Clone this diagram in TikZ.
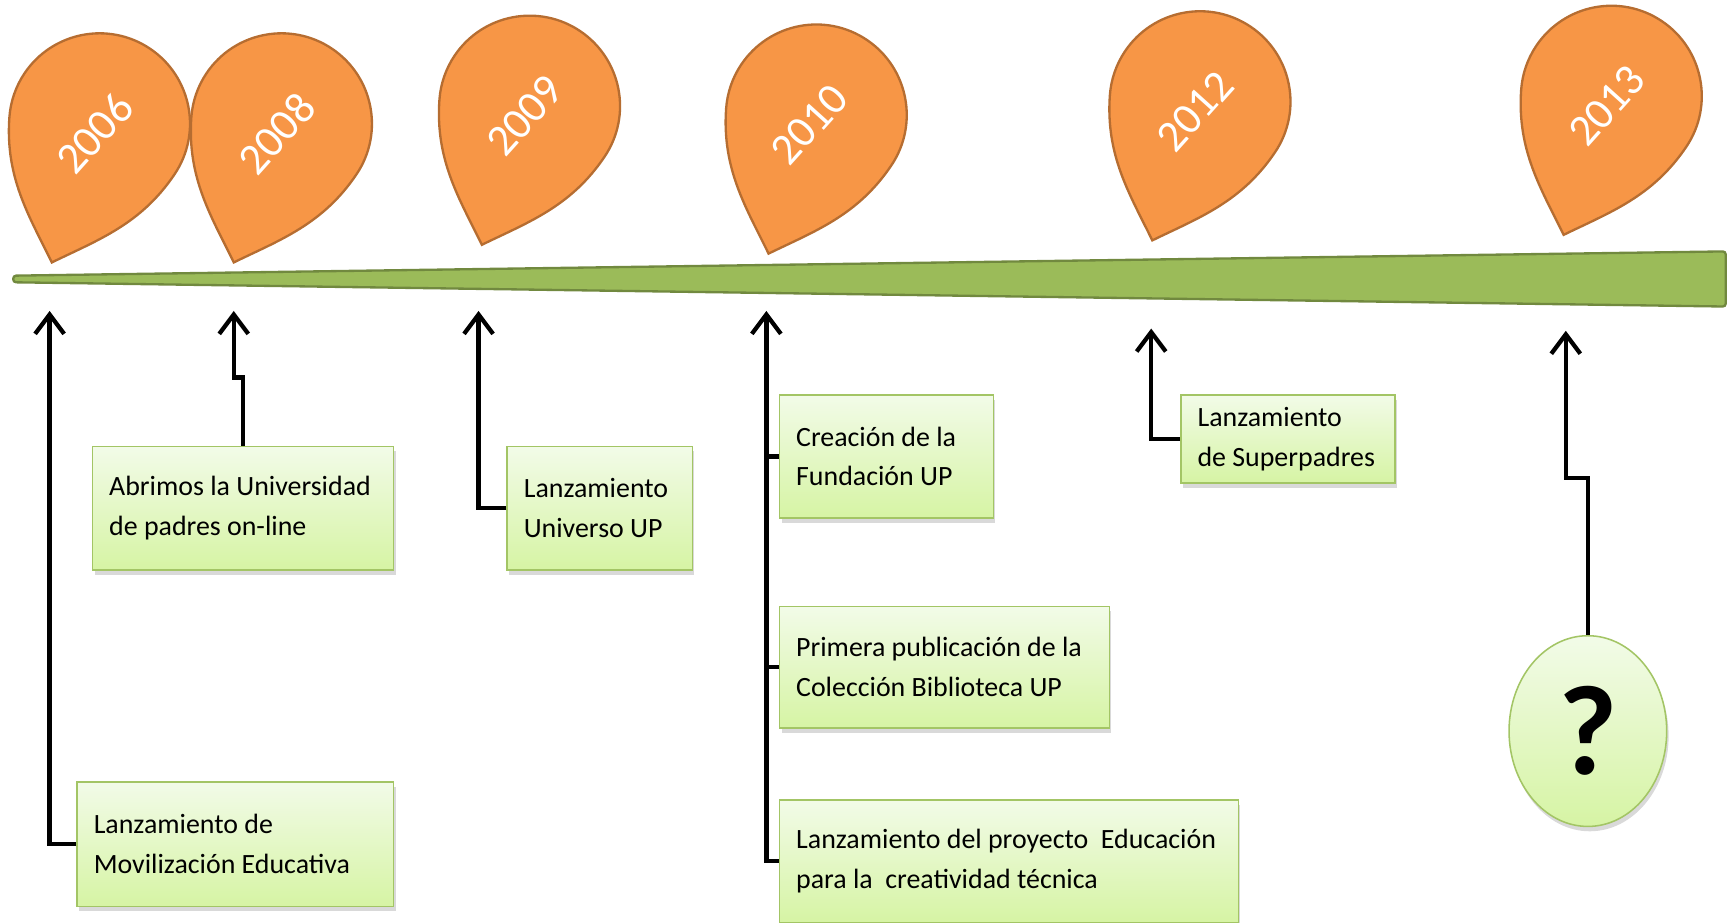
\documentclass[tikz,border=0pt]{standalone}
\usepackage{fontspec}
\setmainfont{Carlito}
\usetikzlibrary{arrows.meta,shapes.geometric,shadows}
\definecolor{naranja}{HTML}{F79646}
\definecolor{naranjaborde}{HTML}{B66D31}
\definecolor{verde}{HTML}{9BBB59}
\definecolor{verdeborde}{HTML}{71893F}
\definecolor{cajaarriba}{HTML}{F2FBE8}
\definecolor{cajaabajo}{HTML}{D6F4A4}
\definecolor{cajaborde}{HTML}{A3C565}
\begin{document}
\begin{tikzpicture}
  [x=0.02cm, y=-0.02cm,
   >={Straight Barb[length=10pt,width=15pt]},
   evento/.style={
    draw=cajaborde,
    top color=cajaarriba,
    bottom color=cajaabajo,
    rectangle,
    inner xsep=0.3cm,
    inner ysep=0pt,
    line width=0.8pt,
    drop shadow={shadow xshift=1pt, shadow yshift=-2.5pt, opacity=.3},
    font=\fontsize{14.4}{20.5}\selectfont}, incognita/.style={
    draw=cajaborde,
    top color=cajaarriba,
    bottom color=cajaabajo,
    ellipse,
    line width=0.8pt,
    minimum width=2.86cm,
    minimum height=3.46cm,
    drop shadow={shadow xshift=1pt, shadow yshift=-2.5pt, opacity=.3},
    font=\fontsize{66}{66}\selectfont\bfseries}, anio/.style={
    text=white,
    rotate=48,
    font=\fontsize{23}{23}\selectfont}, barra/.style={
    fill=verde,
    draw=verdeborde,
    line width=1.2pt,
    rounded corners=1.5pt}, linea/.style={
    line width=2.2pt},
   gota/.pic={
    \draw [draw=naranjaborde, fill=naranja, line width=1.2pt]
      (0,0) .. controls (33,-33) and (65,-58.7) .. (79.2,-111.8)
      arc [start angle=15, end angle=-195, radius=82]
      .. controls (-65,-58.7) and (-33,-33) .. (0,0) -- cycle;}]

  \useasboundingbox (0,0) rectangle (1568,837);

  \draw [barra] (12,250) -- (1565,228) -- (1565,278) -- (12,256) -- cycle;

  \pic [rotate=-19] at (47,238) {gota};
  \pic [rotate=-19] at (212,238) {gota};
  \pic [rotate=-19] at (437,222) {gota};
  \pic [rotate=-19] at (697,230) {gota};
  \pic [rotate=-19] at (1045,218) {gota};
  \pic [rotate=-19] at (1418,213) {gota};

  \node [anio] at (86,121) (a2006) {2006};
  \node [anio] at (251,121) (a2008) {2008};
  \node [anio] at (476,105) (a2009) {2009};
  \node [anio] at (734,113) (a2010) {2010};
  \node [anio] at (1084,101) (a2012) {2012};
  \node [anio] at (1457,96) (a2013) {2013};

  \coordinate (m2006) at (45,282);
  \coordinate (m2008) at (212,282);
  \coordinate (m2009) at (434,282);
  \coordinate (m2010) at (695,282);
  \coordinate (m2012) at (1044,298);
  \coordinate (m2013) at (1420,300);

  \node [evento, minimum height=2.26cm] at (213.5,765.5) (movilizacion) {
  \begin{minipage}{5.14cm}
    Lanzamiento de\\Movilización Educativa
  \end{minipage}
  };

  \node [evento, minimum height=2.24cm] at (220.5,461) (universidad) {
  \begin{minipage}{4.86cm}
    Abrimos la Universidad\\de padres on-line
  \end{minipage}
  };

  \node [evento, minimum height=2.24cm] at (544,461) (universo) {
  \begin{minipage}{2.76cm}
    Lanzamiento\\Universo UP
  \end{minipage}
  };

  \node [evento, minimum height=2.24cm] at (804,414) (fundacion) {
  \begin{minipage}{3.28cm}
    Creación de la\\Fundación UP
  \end{minipage}
  };

  \node [evento, minimum height=2.2cm] at (856.5,605) (biblioteca) {
  \begin{minipage}{5.38cm}
    Primera publicación de la\\Colección Biblioteca UP
  \end{minipage}
  };

  \node [evento, minimum height=2.22cm] at (915,781) (proyecto) {
  \begin{minipage}{7.72cm}
    Lanzamiento del proyecto \ Educación\\para la \ creatividad técnica
  \end{minipage}
  };

  \node [evento, minimum height=1.6cm] at (1168,398) (superpadres) {
  \begin{minipage}{3.28cm}
    Lanzamiento\\de Superpadres
  \end{minipage}
  };

  \node [incognita] at (1440,663) (pregunta) {?};

  \draw [linea, ->] (movilizacion.west) -| (m2006);
  \draw [linea, ->] (universidad.north) -- ++(0,-62) -| (m2008);
  \draw [linea, ->] (universo.west) -| (m2009);
  \draw [linea, ->] (proyecto.west) -| (m2010);
  \draw [linea] (fundacion.west) -- (fundacion.west -| m2010);
  \draw [linea] (biblioteca.west) -- (biblioteca.west -| m2010);
  \draw [linea, ->] (superpadres.west) -| (m2012);
  \draw [linea, ->] (pregunta.north) -- ++(0,-142) -| (m2013);
\end{tikzpicture}
\end{document}
